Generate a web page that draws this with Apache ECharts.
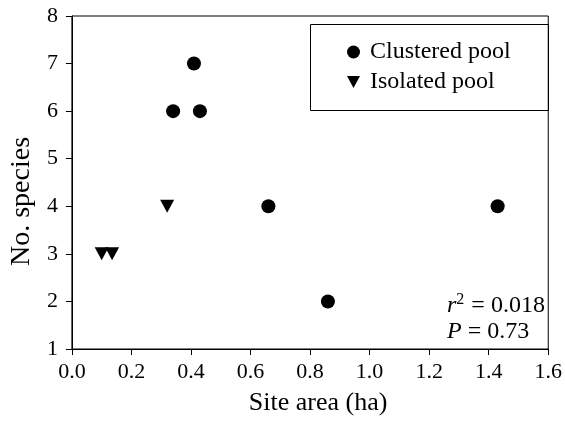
<!DOCTYPE html>
<html>
<head>
<meta charset="utf-8">
<script src="https://cdn.jsdelivr.net/npm/echarts@6/dist/echarts.min.js"></script>
<style>
html,body{margin:0;padding:0;background:#fff;}
#chart{width:565px;height:421px;}
</style>
</head>
<body>
<div id="chart"></div>
<script>
// Data
const clusteredArea = [0.34, 0.41, 0.43, 0.66, 0.86, 1.43];
const clusteredSpecies = [6, 7, 6, 4, 2, 4];
const isolatedArea = [0.10, 0.135, 0.32];
const isolatedSpecies = [3, 3, 4];
const seriesNames = ['Clustered pool', 'Isolated pool'];
const xTitle = 'Site area (ha)';
const yTitle = 'No. species';
const statR2 = '0.018';
const statP = '0.73';

const FONT = '"Liberation Serif", "Times New Roman", serif';
const DOWN_TRI = 'path://M0,0 L10,0 L5,9.4 Z';
const chart = echarts.init(document.getElementById('chart'));

const pairs = (xs, ys) => xs.map((x, i) => [x, ys[i]]);

chart.setOption({
  animation: false,
  backgroundColor: '#fff',
  textStyle: { fontFamily: FONT, color: '#000' },
  grid: {
    left: 70, right: 15, top: 16, bottom: 68,
    show: true, borderColor: '#000', borderWidth: 1, backgroundColor: 'transparent'
  },
  xAxis: {
    type: 'value', min: 0, max: 1.6, interval: 0.2,
    name: xTitle, nameLocation: 'middle', nameGap: 41,
    nameTextStyle: { fontFamily: FONT, fontSize: 26, color: '#000', padding: [0, 0, 0, 16] },
    axisLine: { show: true, onZero: false, lineStyle: { color: '#000', width: 1 } },
    axisTick: { show: true, inside: false, length: 6, lineStyle: { color: '#000' } },
    axisLabel: { fontFamily: FONT, fontSize: 22, color: '#000', margin: 12,
      formatter: v => v.toFixed(1) },
    splitLine: { show: false }
  },
  yAxis: {
    type: 'value', min: 1, max: 8, interval: 1,
    name: yTitle, nameLocation: 'middle', nameGap: 21, nameRotate: 90,
    nameTextStyle: { fontFamily: FONT, fontSize: 28, color: '#000', padding: [0, 38, 0, 0] },
    axisLine: { show: true, onZero: false, lineStyle: { color: '#000', width: 1 } },
    axisTick: { show: true, inside: false, length: 6, lineStyle: { color: '#000' } },
    axisLabel: { fontFamily: FONT, fontSize: 22, color: '#000', margin: 14 },
    splitLine: { show: false }
  },
  legend: {
    orient: 'vertical', left: 342, top: 35,
    itemWidth: 13, itemHeight: 13, itemGap: 6,
    textStyle: { fontFamily: FONT, fontSize: 24, color: '#000', padding: [0, 0, 0, 5] },
    data: [
      { name: seriesNames[0], icon: 'circle', itemStyle: { color: '#000', opacity: 1 } },
      { name: seriesNames[1], icon: DOWN_TRI, itemStyle: { color: '#000', opacity: 1 } }
    ]
  },
  graphic: [
    { type: 'rect', left: 308, top: 22, shape: { width: 238, height: 86 },
      style: { fill: 'none', stroke: '#000', lineWidth: 1 }, z: 100 },
    { type: 'text', left: 447, top: 292, z: 100,
      style: {
        text: '{i|r}{s|2}{n| = ' + statR2 + '}',
        rich: {
          i: { fontFamily: FONT, fontStyle: 'italic', fontSize: 24, fill: '#000', lineHeight: 28 },
          s: { fontFamily: FONT, fontSize: 16, fill: '#000', verticalAlign: 'top', lineHeight: 28, padding: [0, 1, 12, 0] },
          n: { fontFamily: FONT, fontSize: 24, fill: '#000', lineHeight: 28 }
        }
      } },
    { type: 'text', left: 447, top: 320, z: 100,
      style: {
        text: '{i|P}{n| = ' + statP + '}',
        rich: {
          i: { fontFamily: FONT, fontStyle: 'italic', fontSize: 24, fill: '#000', lineHeight: 26 },
          n: { fontFamily: FONT, fontSize: 24, fill: '#000', lineHeight: 26 }
        }
      } }
  ],
  series: [
    { name: seriesNames[0], type: 'scatter', symbol: 'circle', symbolSize: 14,
      itemStyle: { color: '#000', opacity: 1 }, data: pairs(clusteredArea, clusteredSpecies) },
    { name: seriesNames[1], type: 'scatter', symbol: 'triangle', symbolRotate: 180, symbolSize: [14, 13],
      itemStyle: { color: '#000', opacity: 1 }, data: pairs(isolatedArea, isolatedSpecies) }
  ]
});
</script>
</body>
</html>
